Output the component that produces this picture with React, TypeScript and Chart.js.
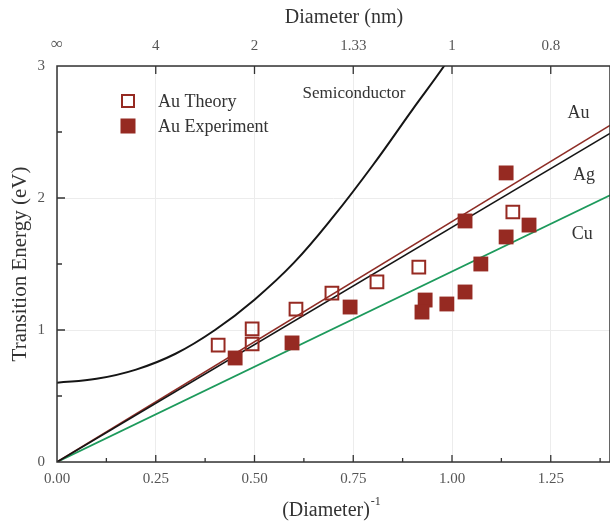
import React, { useEffect, useRef } from 'react';
import { Chart, registerables } from 'chart.js';
Chart.register(...registerables);

// ---- data ----
const xTicks = [0, 0.25, 0.5, 0.75, 1.0, 1.25];
const topTickLabels = ['∞', '4', '2', '1.33', '1', '0.8'];
const yTicks = [0, 1, 2, 3];

const semiX = [0, 0.1, 0.2, 0.3, 0.4, 0.5, 0.6, 0.7, 0.8, 0.9, 0.98, 1.0];
const semiY = [0.6, 0.63, 0.7, 0.82, 1.0, 1.23, 1.51, 1.86, 2.25, 2.67, 3.0, 3.1];

const lineX = [0, 1.4];
const auLineY = [0, 2.55];
const agLineY = [0, 2.49];
const cuLineY = [0, 2.02];

const theoryX = [0.408, 0.494, 0.494, 0.605, 0.696, 0.81, 0.916, 1.154];
const theoryY = [0.886, 1.008, 0.894, 1.159, 1.28, 1.364, 1.477, 1.894];

const expX = [0.451, 0.595, 0.742, 0.932, 0.924, 0.987, 1.033, 1.073, 1.033, 1.137, 1.137, 1.195];
const expY = [0.788, 0.902, 1.174, 1.227, 1.136, 1.197, 1.288, 1.5, 1.826, 1.705, 2.19, 1.795];

const curveLabels = ['Au', 'Ag', 'Cu', 'Semiconductor'];
const curveLabelX = [1.32, 1.334, 1.33, 0.752];
const curveLabelY = [2.644, 2.174, 1.727, 2.795];

const legendLabels = ['Au Theory', 'Au Experiment'];

const BROWN = '#962a22';
const FONT = "'Liberation Serif', 'Times New Roman', serif";

const pts = (xs: number[], ys: number[]) => xs.map((x, i) => ({ x, y: ys[i] }));

const overlay = {
  id: 'overlay',
  afterDatasetsDraw(chart: any) {
    const ctx = chart.ctx as CanvasRenderingContext2D;
    const { left, right, top, bottom } = chart.chartArea;
    const xs = chart.scales.x;
    const ys = chart.scales.y;
    ctx.save();
    // curve labels
    ctx.fillStyle = '#333';
    ctx.textAlign = 'center';
    ctx.textBaseline = 'middle';
    curveLabels.forEach((t, i) => {
      ctx.font = `${i === 3 ? 17 : 18}px ${FONT}`;
      ctx.fillText(t, xs.getPixelForValue(curveLabelX[i]), ys.getPixelForValue(curveLabelY[i]));
    });
    // legend
    ctx.textAlign = 'left';
    ctx.font = `18px ${FONT}`;
    const lx = left + 71;
    const ly = top + 35;
    ctx.fillStyle = '#ffffff';
    ctx.fillRect(lx - 7, ly - 7, 14, 14);
    ctx.strokeStyle = BROWN;
    ctx.lineWidth = 2;
    ctx.strokeRect(lx - 6, ly - 6, 12, 12);
    ctx.fillStyle = BROWN;
    ctx.fillRect(lx - 7.5, ly + 25 - 7.5, 15, 15);
    ctx.fillStyle = '#333';
    ctx.fillText(legendLabels[0], lx + 30, ly + 1);
    ctx.fillText(legendLabels[1], lx + 30, ly + 26);

    // frame
    ctx.strokeStyle = '#333';
    ctx.lineWidth = 1.5;
    ctx.strokeRect(left, top, right - left, bottom - top);
    // ticks
    ctx.lineWidth = 1.3;
    ctx.beginPath();
    for (let v = 0.125; v < 1.4; v += 0.125) {
      const px = xs.getPixelForValue(v);
      const major = Math.abs(v / 0.25 - Math.round(v / 0.25)) < 1e-6;
      ctx.moveTo(px, bottom);
      ctx.lineTo(px, bottom - (major ? 7 : 4));
      if (major) {
        ctx.moveTo(px, top);
        ctx.lineTo(px, top + 8);
      }
    }
    for (let v = 0.5; v < 3; v += 0.5) {
      const py = ys.getPixelForValue(v);
      const major = Math.abs(v - Math.round(v)) < 1e-6;
      ctx.moveTo(left, py);
      ctx.lineTo(left + (major ? 8 : 5), py);
    }
    ctx.stroke();

    // axis titles
    ctx.fillStyle = '#333';
    ctx.font = `20px ${FONT}`;
    ctx.textAlign = 'center';
    ctx.textBaseline = 'middle';
    ctx.fillText('Diameter (nm)', 344, 18);
    const base = '(Diameter)';
    const w = ctx.measureText(base).width;
    ctx.textAlign = 'left';
    const bx = 330 - w / 2 - 4;
    ctx.fillText(base, bx, 511);
    ctx.font = `12px ${FONT}`;
    ctx.fillText('-1', bx + w + 1, 502);
    ctx.font = `21px ${FONT}`;
    ctx.textAlign = 'center';
    ctx.translate(20, 264);
    ctx.rotate(-Math.PI / 2);
    ctx.fillText('Transition Energy (eV)', 0, 0);
    ctx.restore();
  },
};

export default function App() {
  const ref = useRef<HTMLCanvasElement>(null);
  useEffect(() => {
    document.body.style.margin = '0';
    const tickFont = { family: FONT, size: 15 };
    const noPad = (s: any) => {
      s.paddingLeft = 0;
      s.paddingRight = 0;
      s.paddingTop = 0;
      s.paddingBottom = 0;
    };
    const chart = new Chart(ref.current!, {
      type: 'scatter',
      data: {
        datasets: [
          {
            label: 'Au Experiment',
            data: pts(expX, expY),
            pointStyle: 'rect',
            pointRadius: 10.5,
            backgroundColor: BROWN,
            borderColor: BROWN,
            borderWidth: 0,
            order: 1,
          },
          {
            label: 'Au Theory',
            data: pts(theoryX, theoryY),
            pointStyle: 'rect',
            pointRadius: 9,
            backgroundColor: 'rgba(255,255,255,0)',
            borderColor: BROWN,
            borderWidth: 2,
            order: 2,
          },
          {
            label: 'Au',
            data: pts(lineX, auLineY),
            showLine: true,
            pointRadius: 0,
            borderColor: '#8e2d26',
            borderWidth: 1.6,
            order: 5,
          },
          {
            label: 'Ag',
            data: pts(lineX, agLineY),
            showLine: true,
            pointRadius: 0,
            borderColor: '#151515',
            borderWidth: 1.6,
            order: 4,
          },
          {
            label: 'Cu',
            data: pts(lineX, cuLineY),
            showLine: true,
            pointRadius: 0,
            borderColor: '#1d9a5c',
            borderWidth: 1.8,
            order: 6,
          },
          {
            label: 'Semiconductor',
            data: pts(semiX, semiY),
            showLine: true,
            pointRadius: 0,
            borderColor: '#151515',
            borderWidth: 2,
            tension: 0.4,
            order: 7,
          },
        ],
      },
      options: {
        responsive: false,
        animation: false,
        layout: { padding: 0, autoPadding: false },
        plugins: { legend: { display: false }, tooltip: { enabled: false } },
        scales: {
          x: {
            type: 'linear',
            position: 'bottom',
            min: 0,
            max: 1.4,
            afterBuildTicks: (s: any) => {
              s.ticks = xTicks.map((v) => ({ value: v }));
            },
            afterFit: (s: any) => {
              s.height = 60;
              noPad(s);
            },
            ticks: {
              callback: (v: any) => Number(v).toFixed(2),
              font: tickFont,
              color: '#555',
              padding: 8,
              maxRotation: 0,
            },
            grid: { color: '#ececec', drawTicks: false, lineWidth: 1 },
            border: { display: false },
          },
          x2: {
            type: 'linear',
            position: 'top',
            min: 0,
            max: 1.4,
            afterBuildTicks: (s: any) => {
              s.ticks = xTicks.map((v) => ({ value: v }));
            },
            afterFit: (s: any) => {
              s.height = 66;
              noPad(s);
            },
            ticks: {
              callback: (_v: any, i: number) => topTickLabels[i],
              font: (c: any) => ({ family: FONT, size: c.index === 0 ? 17 : 15 }),
              color: '#555',
              padding: 11,
              maxRotation: 0,
            },
            grid: { display: false, drawTicks: false },
            border: { display: false },
          },
          y: {
            type: 'linear',
            position: 'left',
            min: 0,
            max: 3,
            afterBuildTicks: (s: any) => {
              s.ticks = yTicks.map((v) => ({ value: v }));
            },
            afterFit: (s: any) => {
              s.width = 57;
              noPad(s);
            },
            ticks: {
              callback: (v: any) => String(v),
              font: tickFont,
              color: '#555',
              padding: 12,
            },
            grid: { color: '#ececec', drawTicks: false, lineWidth: 1 },
            border: { display: false },
          },
        },
      },
      plugins: [overlay],
    } as any);
    return () => chart.destroy();
  }, []);
  return (
    <div style={{ width: 610, height: 522 }}>
      <canvas ref={ref} width={610} height={522} style={{ display: 'block', width: 610, height: 522 }} />
    </div>
  );
}
